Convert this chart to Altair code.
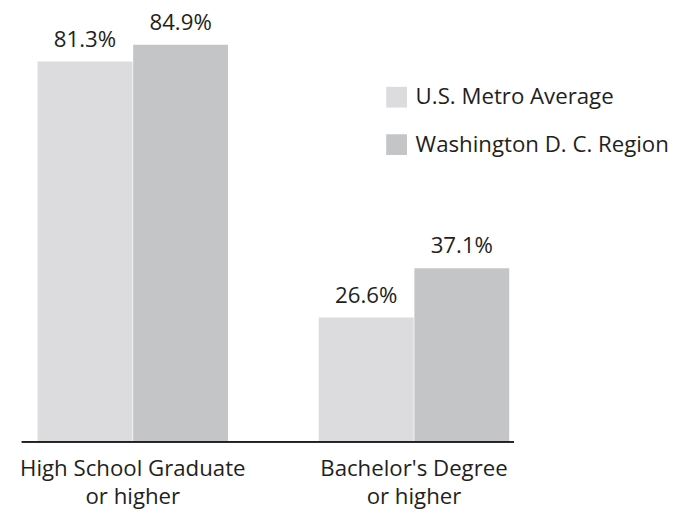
import altair as alt
import pandas as pd

categories = ["High School Graduate|or higher", "Bachelor's Degree|or higher"]
series = ["U.S. Metro Average", "Washington D. C. Region"]
us_metro = [81.3, 26.6]
dc_region = [84.9, 37.1]

rows = []
for i, c in enumerate(categories):
    rows.append({"cat": c, "series": series[0], "value": us_metro[i], "label": f"{us_metro[i]:.1f}%"})
    rows.append({"cat": c, "series": series[1], "value": dc_region[i], "label": f"{dc_region[i]:.1f}%"})
df = pd.DataFrame(rows)

FONT = "Open Sans"
TXT = "#231f20"
FS = 22.5
W, H = 498, 426

x = alt.X("cat:N", sort=categories,
          scale=alt.Scale(paddingInner=0.32, paddingOuter=0.035, align=0.78),
          axis=alt.Axis(title=None, domain=False, ticks=False,
                        labelExpr="split(datum.label, '|')",
                        labelFont=FONT, labelFontSize=FS, labelColor=TXT,
                        labelAngle=0, labelPadding=16, labelLineHeight=28,
                        labelLimit=400))
y = alt.Y("value:Q", scale=alt.Scale(domain=[0, 90], nice=False, zero=True), axis=None)
xo = alt.XOffset("series:N", sort=series)
color = alt.Color("series:N", sort=series,
                  scale=alt.Scale(domain=series, range=["#dcdcde", "#c4c5c7"]),
                  legend=alt.Legend(title=None, orient="none", legendX=368, legendY=66,
                                    symbolType="square", symbolSize=441, symbolStrokeWidth=0,
                                    labelFont=FONT, labelFontSize=FS, labelColor=TXT,
                                    labelOffset=8, rowPadding=25, labelLimit=400))

bars = alt.Chart(df).mark_bar(size=96).encode(x=x, xOffset=xo, y=y, color=color)
labels = alt.Chart(df).mark_text(baseline="alphabetic", dy=-15, font=FONT, fontSize=FS, color=TXT).encode(
    x=x, xOffset=xo, y=y, text="label:N")
base = alt.Chart(df).mark_rule(color=TXT, strokeWidth=1.5).encode(
    x=alt.value(0), x2=alt.value(W), y=alt.value(H))

chart = alt.layer(bars, labels, base).properties(
    width=W, height=H,
    autosize=alt.AutoSizeParams(type="none"),
    padding={"left": 14, "top": 10, "right": 163, "bottom": 66},
).configure_view(stroke=None)

chart.save("out.html", embed_options={"renderer": "svg", "actions": False})
